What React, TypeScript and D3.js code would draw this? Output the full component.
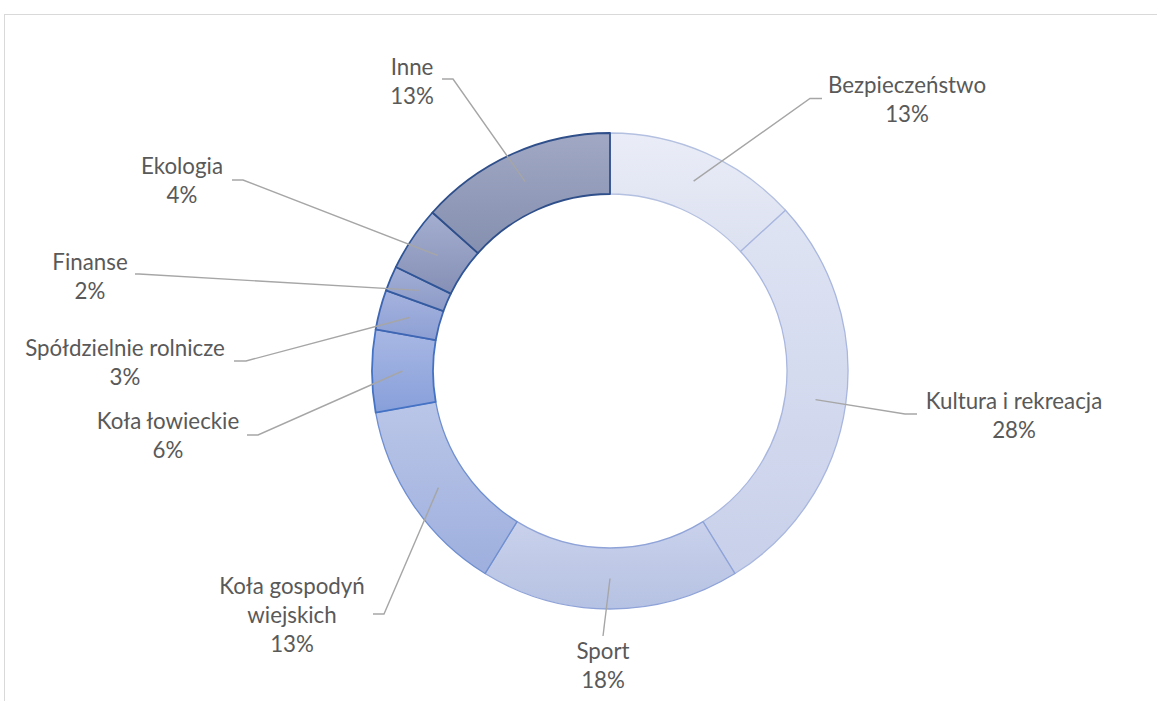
import React from "react";
import * as d3 from "d3";

const categories = [
  "Bezpieczeństwo",
  "Kultura i rekreacja",
  "Sport",
  "Koła gospodyń wiejskich",
  "Koła łowieckie",
  "Spółdzielnie rolnicze",
  "Finanse",
  "Ekologia",
  "Inne",
];
const values = [13.2, 28.0, 17.6, 13.4, 5.6, 2.7, 1.7, 4.4, 13.4];

// label text lines (name may wrap)
const labelLines = [
  ["Bezpieczeństwo"],
  ["Kultura i rekreacja"],
  ["Sport"],
  ["Koła gospodyń", "wiejskich"],
  ["Koła łowieckie"],
  ["Spółdzielnie rolnicze"],
  ["Finanse"],
  ["Ekologia"],
  ["Inne"],
];

// style: gradient top, gradient bottom, stroke
const fillTop = ["#eaedf7", "#dfe4f3", "#c9d1eb", "#bac6e8", "#a9b8e4", "#a5b3df", "#a3afd7", "#a4aed0", "#a0a8c4"];
const fillBottom = ["#dce1f1", "#c8d0ea", "#b6c2e3", "#9eafde", "#879fda", "#8d9fd3", "#8b99c5", "#8690b6", "#858faf"];
const strokes = ["#b4c0e0", "#a9b7df", "#8fa3d8", "#6f8fd0", "#4472c4", "#3e66b3", "#345aa0", "#2f5597", "#2f4f8a"];

// layout of labels: text center x, first line center y, leader start, elbow end x
const labelLayout = [
  { x: 907, y: 85, lx: 822, ly: 98.5, ex: 810 },
  { x: 1014, y: 401, lx: 917, ly: 414, ex: 905 },
  { x: 603, y: 651, lx: 603, ly: 636, ex: 603 },
  { x: 292, y: 586, lx: 373, ly: 614, ex: 384 },
  { x: 168, y: 421, lx: 247, ly: 435, ex: 258 },
  { x: 125, y: 348, lx: 234, ly: 361, ex: 246 },
  { x: 90, y: 262, lx: 135, ly: 274, ex: 139 },
  { x: 182, y: 166, lx: 232, ly: 180, ex: 243 },
  { x: 412, y: 67, lx: 442, ly: 79, ex: 453 },
];

export default function App() {
  const W = 1157;
  const H = 701;
  const cx = 610;
  const cy = 371;
  const outerR = 238;
  const innerR = 177;
  const total = d3.sum(values);

  const pie = d3.pie<number>().sort(null).value((d) => d)(values);
  const arc = d3.arc<d3.PieArcDatum<number>>().innerRadius(innerR).outerRadius(outerR);
  const lineSpacing = 29;

  return (
    <svg
      width={W}
      height={H}
      style={{ position: "absolute", left: 0, top: 0, background: "#fff" }}
      fontFamily="Lato, 'Open Sans', sans-serif"
    >
      <defs>
        {values.map((_, i) => (
          <linearGradient key={i} id={`g${i}`} x1="0" y1="0" x2="0" y2="1">
            <stop offset="0%" stopColor={fillTop[i]} />
            <stop offset="100%" stopColor={fillBottom[i]} />
          </linearGradient>
        ))}
      </defs>
      <rect x={4.5} y={14.5} width={W + 20} height={H + 20} fill="#fff" stroke="#d9d9d9" strokeWidth={1} />
      <g transform={`translate(${cx},${cy})`}>
        {pie.map((p, i) => (
          <path
            key={i}
            d={arc(p) || ""}
            fill={`url(#g${i})`}
            stroke={strokes[i]}
            strokeWidth={i >= 4 ? 1.8 : 1.3}
            strokeLinejoin="round"
          />
        ))}
      </g>
      {pie.map((p, i) => {
        const [ax, ay] = arc.centroid(p);
        const L = labelLayout[i];
        const pts: [number, number][] = [
          [L.lx, L.ly],
          [L.ex, L.ly],
          [cx + ax, cy + ay],
        ];
        return (
          <path
            key={`l${i}`}
            d={d3.line()(pts) || ""}
            fill="none"
            stroke="#a6a6a6"
            strokeWidth={1.4}
          />
        );
      })}
      {pie.map((p, i) => {
        const L = labelLayout[i];
        const lines = [...labelLines[i], `${Math.round((values[i] / total) * 100)}%`];
        return (
          <text key={`t${i}`} textAnchor="middle" fill="#595959" fontSize={22.3}>
            {lines.map((s, k) => (
              <tspan key={k} x={L.x} y={L.y + k * lineSpacing} dy="0.36em">
                {s}
              </tspan>
            ))}
          </text>
        );
      })}
    </svg>
  );
}
